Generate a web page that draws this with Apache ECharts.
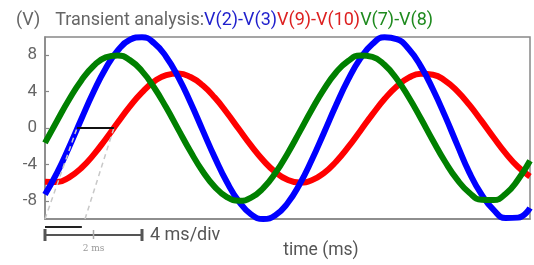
<!DOCTYPE html>
<html>
<head>
<meta charset="utf-8">
<script src="https://cdn.jsdelivr.net/npm/echarts@6/dist/echarts.min.js"></script>
<style>html,body{margin:0;padding:0;background:#fff;}#c{width:534px;height:265px;}</style>
</head>
<body>
<div id="c"></div>
<script>
// time samples (ms)
const timeMs = [0,0.5,1,1.5,2,2.5,3,3.5,4,4.5,5,5.5,6,6.5,7,7.5,8,8.5,9,9.5,10,10.5,11,11.5,12,12.5,13,13.5,14,14.5,15,15.5,16,16.5,17,17.5,18,18.5,19,19.5,20];
// V(2)-V(3) (blue)
const v2v3 = [-7.31,-4.91,-2.06,0.99,3.95,6.54,8.52,9.70,9.98,9.33,7.81,5.57,2.80,-0.23,-3.23,-5.94,-8.09,-9.49,-10.00,-9.58,-8.27,-6.18,-3.52,-0.54,2.50,5.31,7.62,9.22,9.96,9.77,8.67,6.77,4.23,1.30,-1.85,-4.90,-7.30,-9.00,-9.90,-9.85,-8.80];
// V(9)-V(10) (red)
const v9v10 = [-5.91,-5.94,-5.42,-4.39,-2.95,-1.23,0.60,2.37,3.92,5.11,5.82,5.99,5.60,4.69,3.34,1.68,-0.14,-1.94,-3.56,-4.85,-5.69,-6.00,-5.75,-4.96,-3.71,-2.11,-0.32,1.50,3.18,4.57,5.53,5.97,5.86,5.20,4.06,2.54,0.78,-1.05,-2.79,-4.26,-5.34];
// V(7)-V(8) (green)
const v7v8 = [-1.64,0.80,3.16,5.23,6.81,7.76,7.98,7.46,6.25,4.45,2.24,-0.18,-2.59,-4.75,-6.47,-7.59,-8.00,-7.66,-6.61,-4.95,-2.82,-0.43,2.00,4.25,6.10,7.37,7.97,7.82,6.94,5.41,3.38,1.04,-1.40,-3.71,-5.68,-7.11,-7.89,-7.92,-7.22,-5.70,-3.60];
// y tick labels
const yTicks = [-8,-4,0,4,8];
// zero crossings (ms) of blue and red, phase shift markers
const blueZero = 1.32;
const redZero = 2.84;
const projStart2 = 1.65;
const phaseShiftMs = 1.52;
const scaleDiv = 4;

const pair = arr => arr.map((v, i) => [timeMs[i], v]);

const chart = echarts.init(document.getElementById('c'));
const FONT = 'Roboto';
const rs = c => ({color: c, fontSize: 18, fontFamily: FONT, fontWeight: 'normal'});
chart.setOption({
  animation: false,
  title: {
    left: 11, top: 6,
    text: '{g|(V)}   {g|Transient analysis:}{b|V(2)-V(3)}{r|V(9)-V(10)}{gr|V(7)-V(8)}',
    textStyle: {
      fontWeight: 'normal',
      rich: {g: rs('#666'), b: rs('#1f1fcc'), r: rs('#dd2020'), gr: rs('#1e8a1e')}
    }
  },
  grid: {left: 45, right: 4, top: 37, bottom: 46, show: true, borderColor: '#888', borderWidth: 1.5, backgroundColor: 'transparent'},
  xAxis: {
    type: 'value', min: 0, max: 20,
    axisLine: {show: true, onZero: false, lineStyle: {color: '#888', width: 1.5}},
    axisTick: {show: false}, axisLabel: {show: false}, splitLine: {show: false}
  },
  yAxis: {
    type: 'value', min: -10, max: 10,
    axisLine: {show: true, onZero: false, lineStyle: {color: '#888', width: 1.5}},
    axisTick: {show: true, inside: true, length: 4, customValues: yTicks, lineStyle: {color: '#888', width: 1.2}},
    axisLabel: {customValues: yTicks, color: '#666', fontSize: 17, fontFamily: FONT, margin: 8},
    splitLine: {show: false}
  },
  series: [
    {type: 'line', data: pair(v9v10), smooth: true, clip: false, showSymbol: false, lineStyle: {color: '#ff0000', width: 6}, z: 2},
    {type: 'line', data: pair(v2v3), smooth: true, clip: false, showSymbol: false, lineStyle: {color: '#0000ff', width: 6}, z: 3},
    {type: 'line', data: pair(v7v8), smooth: true, clip: false, showSymbol: false, lineStyle: {color: '#008000', width: 6}, z: 4},
    {type: 'line', data: [[0, -10], [blueZero, 0]], showSymbol: false, silent: true, lineStyle: {color: '#c8c8c8', width: 1.5, type: [5, 4]}, z: 5},
    {type: 'line', data: [[projStart2, -10], [redZero, 0]], showSymbol: false, silent: true, lineStyle: {color: '#c8c8c8', width: 1.5, type: [5, 4]}, z: 5},
    {type: 'line', data: [[blueZero, 0], [redZero, 0]], showSymbol: false, silent: true, lineStyle: {color: '#111', width: 2}, z: 6}
  ]
});

const px = t => chart.convertToPixel({xAxisIndex: 0}, t);
const x0 = px(0), x2 = px(scaleDiv / 2), x4 = px(scaleDiv), xp = px(phaseShiftMs);
chart.setOption({
  graphic: [
    {type: 'line', shape: {x1: x0, y1: 227, x2: xp, y2: 227}, style: {stroke: '#222', lineWidth: 2}},
    {type: 'line', shape: {x1: x0, y1: 235, x2: x4, y2: 235}, style: {stroke: '#555', lineWidth: 2}},
    {type: 'line', shape: {x1: x0, y1: 229, x2: x0, y2: 241}, style: {stroke: '#555', lineWidth: 3}},
    {type: 'line', shape: {x1: x4, y1: 229, x2: x4, y2: 241}, style: {stroke: '#555', lineWidth: 3}},
    {type: 'line', shape: {x1: x2, y1: 230, x2: x2, y2: 239}, style: {stroke: '#aaa', lineWidth: 1.5}},
    {type: 'text', x: x2, y: 249, style: {text: '2 ms', font: '9px "DejaVu Serif", serif', fill: '#999', align: 'center', verticalAlign: 'middle'}},
    {type: 'text', x: x4 + 8, y: 235, style: {text: scaleDiv + ' ms/div', font: '18px Roboto', fill: '#555', align: 'left', verticalAlign: 'middle'}},
    {type: 'text', x: 321, y: 251, style: {text: 'time (ms)', font: '17.5px Roboto', fill: '#555', align: 'center', verticalAlign: 'middle'}}
  ]
});
</script>
</body>
</html>
